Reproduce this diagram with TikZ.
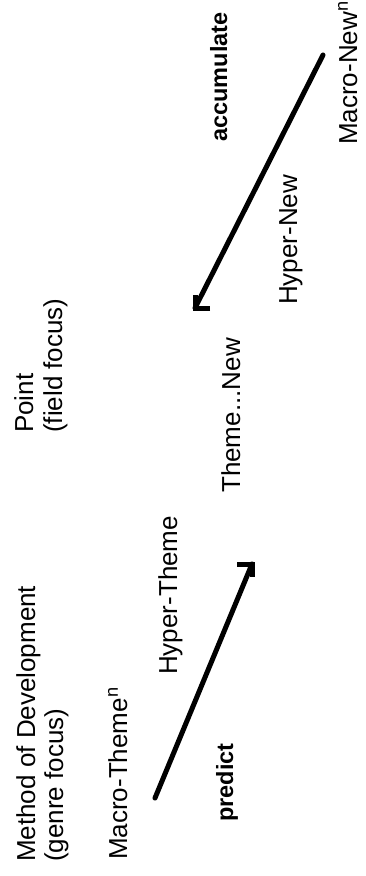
\documentclass[tikz,border=0pt]{standalone}
\usepackage{fontspec}
\setmainfont{Liberation Sans}
\begin{document}
\begin{tikzpicture}[x=1pt,y=-1pt,
  lbl/.style={rotate=90,anchor=base west,inner sep=0pt,font=\fontsize{26}{30}\selectfont},
  blbl/.style={lbl,font=\fontsize{23.5}{28}\selectfont\bfseries},
  shaft/.style={line width=5pt,line cap=round},
  barb/.style={line width=5pt,line join=miter}]
\useasboundingbox (0,0) rectangle (366,876);
\node[lbl] (mod) at (35,862) {Method of Development};
\node[lbl] (genre) at (63,862) {(genre focus)};
\node[lbl] (mth) at (127,860) {Macro-Theme\textsuperscript{n}};
\node[lbl] (hth) at (177,675) {Hyper-Theme};
\node[blbl] (pred) at (233,822) {predict};
\node[lbl] (point) at (33,433) {Point};
\node[lbl] (field) at (62,433) {(field focus)};
\node[lbl] (tn) at (240,493) {Theme...New};
\node[blbl] (acc) at (227,142) {accumulate};
\node[lbl] (hnew) at (297,305) {Hyper-New};
\node[lbl] (mnew) at (357,145) {Macro-New\textsuperscript{n}};
\coordinate (a1s) at (155,798);
\coordinate (a1t) at (252,564);
\draw[shaft] (a1s) -- (a1t);
\draw[barb] (a1t) ++(-15,0) -- (a1t) -- ++(0,13);
\coordinate (a2s) at (323,55);
\coordinate (a2t) at (195,308);
\draw[shaft] (a2s) -- (a2t);
\draw[barb] (a2t) ++(15,0) -- (a2t) -- ++(0,-13);
\end{tikzpicture}
\end{document}
